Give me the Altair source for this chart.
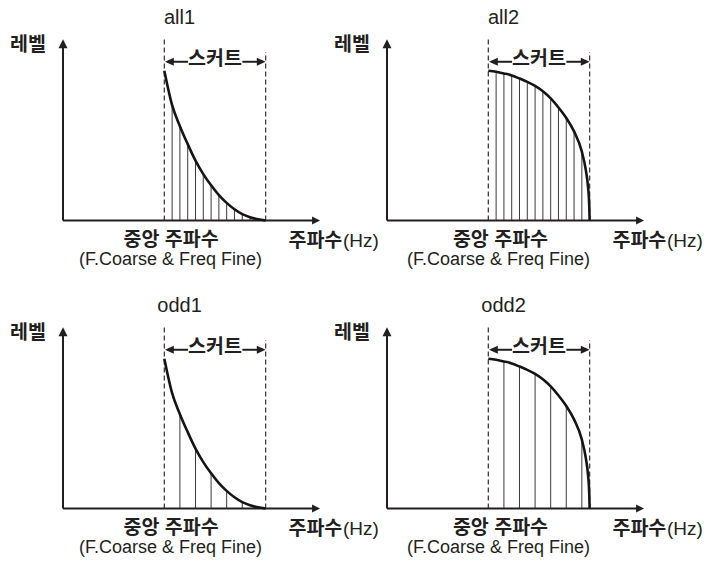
import altair as alt
import pandas as pd

# ---------------- data ----------------
panel_names = ["all1", "all2", "odd1", "odd2"]
panel_curve = ["fall", "round", "fall", "round"]
panel_harm = ["all", "all", "odd", "odd"]

# skirt shapes: level (0-100) read at harmonic step k (0 = centre freq, 13 = skirt end)
fall_k = [0, 1, 2, 3, 4, 5, 6, 7, 8, 9, 10, 11, 12, 13]
fall_level = [100, 77, 63, 51, 40, 31, 23.5, 17, 11.8, 7.5, 4.3, 2.2, 0.8, 0]
round_k = [0, 1, 2, 3, 4, 5, 6, 7, 8, 9, 10, 11, 12, 12.5, 12.8, 12.95, 13]
round_level = [100, 99.3, 98.2, 96.9, 94.8, 92.6, 89.9, 86.3, 81.5, 75.5, 68.5, 59.5, 46, 34, 22, 10, 0]

harm_all = [1, 2, 3, 4, 5, 6, 7, 8, 9, 10, 11, 12]
harm_odd = [2, 4, 6, 8, 10, 12]

txt_level = "레벨"
txt_skirt = "스커트"
txt_center = "중앙 주파수"
txt_center_sub = "(F.Coarse & Freq Fine)"
txt_freq = "주파수"
txt_hz = "(Hz)"

# ---------------- geometry (data units) ----------------
N_STEPS = 13
CENTER = 100.0
SKIRT = 100.0
X_DOMAIN = [-54.3, 265.5]
Y_DOMAIN = [-50.4, 141.9]
W, H = 324, 288

KOR = "Liberation Sans, Noto Sans CJK KR"
INK = "#231f20"

xs = alt.Scale(domain=X_DOMAIN, nice=False, zero=False)
ys = alt.Scale(domain=Y_DOMAIN, nice=False, zero=False)


def freq(k):
    return CENTER + k * SKIRT / N_STEPS


def text_layer(df, **kw):
    return alt.Chart(df).mark_text(font=KOR, color=INK, **kw).encode(
        x=alt.X("x:Q", scale=xs, axis=None),
        y=alt.Y("y:Q", scale=ys, axis=None), text="t:N")


def make_panel(i):
    name = panel_names[i]
    if panel_curve[i] == "fall":
        ck, cl = fall_k, fall_level
    else:
        ck, cl = round_k, round_level
    harm = harm_all if panel_harm[i] == "all" else harm_odd
    right_col = i % 2 == 1

    curve_df = pd.DataFrame({"f": [freq(k) for k in ck], "lv": cl})
    lvl = dict(zip(ck, cl))
    harm_df = pd.DataFrame({"f": [freq(k) for k in harm],
                            "y0": [0] * len(harm),
                            "y1": [lvl[k] for k in harm]})

    harm_layer = alt.Chart(harm_df).mark_rule(color="#3a3a3a", strokeWidth=1).encode(
        x=alt.X("f:Q", scale=xs, axis=None),
        y=alt.Y("y0:Q", scale=ys, axis=None),
        y2="y1:Q")

    dash_df = pd.DataFrame({"f": [CENTER, CENTER + SKIRT], "y0": [0, 0], "y1": [122.5, 112.5]})
    dash_layer = alt.Chart(dash_df).mark_rule(color="#3f3f3f", strokeWidth=1.3,
                                              strokeDash=[5, 3]).encode(
        x=alt.X("f:Q", scale=xs, axis=None),
        y=alt.Y("y0:Q", scale=ys, axis=None),
        y2="y1:Q")

    axes_df = pd.DataFrame({"x0": [0, 0], "x1": [0, 248], "y0": [0, 0], "y1": [116, 0]})
    axes_layer = alt.Chart(axes_df).mark_rule(color=INK, strokeWidth=2).encode(
        x=alt.X("x0:Q", scale=xs, axis=None), x2="x1:Q",
        y=alt.Y("y0:Q", scale=ys, axis=None), y2="y1:Q")

    sk_df = pd.DataFrame({"x0": [103, 177], "x1": [123.4, 197], "y0": [106, 106]})
    sk_layer = alt.Chart(sk_df).mark_rule(color=INK, strokeWidth=2).encode(
        x=alt.X("x0:Q", scale=xs, axis=None), x2="x1:Q",
        y=alt.Y("y0:Q", scale=ys, axis=None))

    curve_layer = alt.Chart(curve_df).mark_line(color="#151515", strokeWidth=2.6,
                                                interpolate="monotone").encode(
        x=alt.X("f:Q", scale=xs, axis=None),
        y=alt.Y("lv:Q", scale=ys, axis=None),
        order="f:Q")

    head_df = pd.DataFrame({
        "x": [0, 253.7, 100.7, 200],
        "y": [121, 0, 106, 106],
        "shape": ["M0,0L-1,2L1,2Z", "M0,0L-2,-1L-2,1Z",
                  "M0,0L2.2,-1L2.2,1Z", "M0,0L-2.2,-1L-2.2,1Z"],
        "sz": [81, 64, 64, 64]})
    head_layer = alt.Chart(head_df).mark_point(filled=True, opacity=1, color=INK,
                                               strokeWidth=0).encode(
        x=alt.X("x:Q", scale=xs, axis=None),
        y=alt.Y("y:Q", scale=ys, axis=None),
        shape=alt.Shape("shape:N", scale=None),
        size=alt.Size("sz:Q", scale=None))

    title_l = text_layer(pd.DataFrame({"x": [115], "y": [131.0], "t": [name]}),
                         fontSize=20, align="center", baseline="alphabetic")

    cx = 112 if right_col else 106.6
    cx2 = 110 if right_col else 106.1
    kc_l = text_layer(pd.DataFrame({"x": [-34.5, 150, cx], "y": [117.2, 107.8, -13.0],
                                    "t": [txt_level, txt_skirt, txt_center]}),
                      fontSize=19.5, fontWeight="bold", align="center", baseline="middle")
    kl_l = text_layer(pd.DataFrame({"x": [222.5], "y": [-13.4], "t": [txt_freq]}),
                      fontSize=19.5, fontWeight="bold", align="left", baseline="middle")
    hz_l = text_layer(pd.DataFrame({"x": [276.4], "y": [-13.4], "t": [txt_hz]}),
                      fontSize=19, align="left", baseline="middle")
    sub_l = text_layer(pd.DataFrame({"x": [cx2], "y": [-29.7], "t": [txt_center_sub]}),
                       fontSize=18, align="center", baseline="alphabetic")

    return alt.layer(harm_layer, dash_layer, axes_layer, sk_layer, curve_layer,
                     head_layer, title_l, kc_l, kl_l, hz_l, sub_l).properties(width=W, height=H)


chart = alt.concat(*[make_panel(i) for i in range(4)], columns=2, spacing=0,
                   bounds="flush").properties(padding=0).configure_view(stroke=None)

chart.save("out.html", embed_options={"renderer": "svg", "actions": False})
